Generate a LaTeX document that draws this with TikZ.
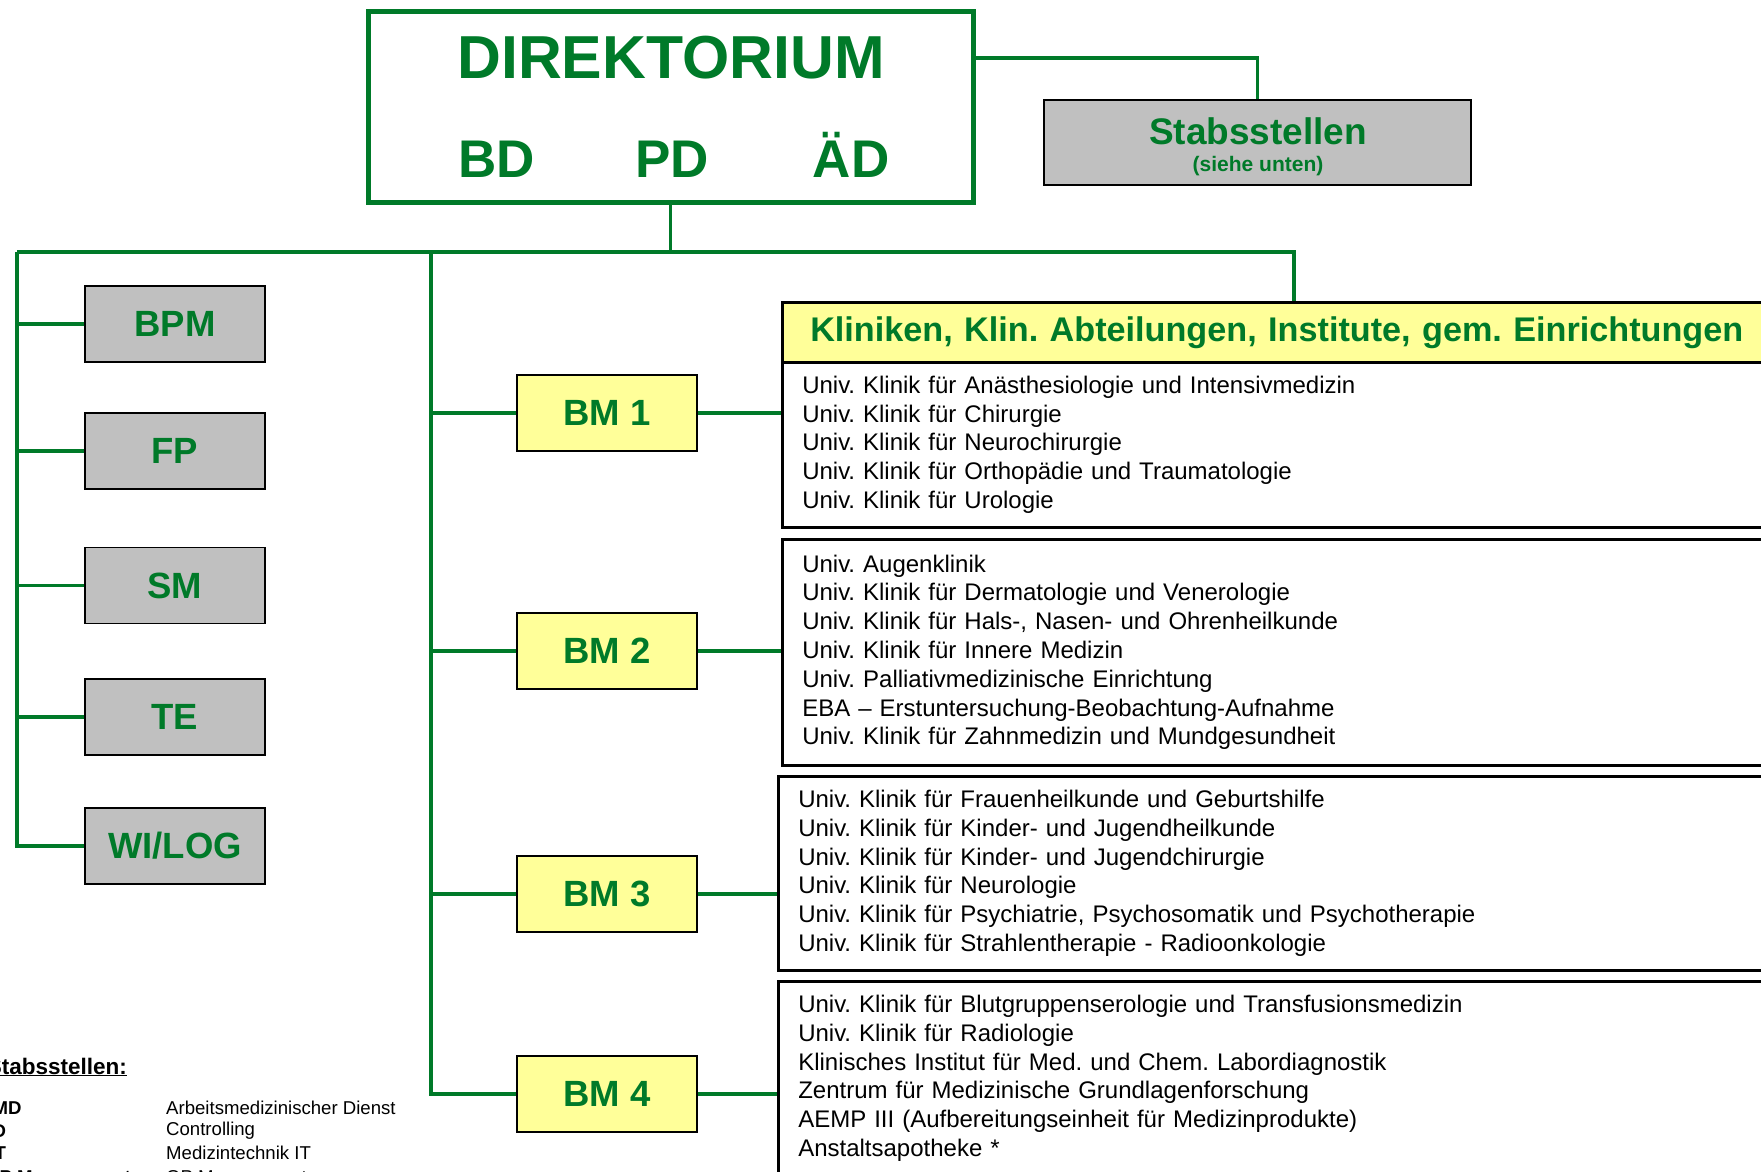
\documentclass[tikz,border=0pt]{standalone}
\usepackage{fontspec}
\setmainfont{Liberation Sans}
\usetikzlibrary{positioning}
\frenchspacing
\definecolor{dgreen}{RGB}{0,122,41}
\definecolor{lgray}{RGB}{192,192,192}
\definecolor{lyellow}{RGB}{255,255,153}
\tikzset{
    ast/.style={draw=dgreen,line width=3.5pt},
    gtext/.style={text=dgreen,inner sep=0pt},
    graubox/.style={draw=black,line width=1.3pt,fill=lgray,minimum width=180pt,minimum height=76pt,
        text=dgreen,font=\fontsize{36.5}{40}\selectfont\bfseries},
    bmbox/.style={graubox,fill=lyellow},
    klinik/.style={draw=black,line width=2.5pt,fill=white,anchor=north west,text width=980pt,
        align=left,inner xsep=20pt,inner ysep=0pt,font=\fontsize{24}{28.8}\selectfont},
    legende/.style={inner sep=0pt,anchor=west,font=\fontsize{18.6}{22}\selectfont}
}
\begin{document}
\begin{tikzpicture}[x=1pt,y=-1pt]
    \useasboundingbox (0,0) rectangle (1761,1171);
    \clip (0,0) rectangle (1761,1171);

    \node[draw=dgreen,line width=5pt,minimum width=605pt,minimum height=191pt] (dir) at (670.5,106.5) {};
    \node[gtext,font=\fontsize{60.7}{70}\selectfont\bfseries] (dirtitel) at (671,58) {DIREKTORIUM};
    \node[gtext,anchor=base,font=\fontsize{53}{60}\selectfont\bfseries] (bd) at (497,177) {BD};
    \node[gtext,anchor=base,font=\fontsize{53}{60}\selectfont\bfseries] (pd) at (672,177) {PD};
    \node[gtext,anchor=base,font=\fontsize{53}{60}\selectfont\bfseries] (aed) at (851,177) {ÄD};

    \node[draw=black,line width=1.3pt,fill=lgray,minimum width=427pt,minimum height=85pt] (stab) at (1257.5,142.5) {};
    \node[gtext,font=\fontsize{37}{42}\selectfont\bfseries] (stabtitel) at (1258,131) {Stabsstellen};
    \node[gtext,font=\fontsize{21}{25}\selectfont\bfseries] (stabhinweis) at (1258,166) {(siehe unten)};

    \node[graubox] (bpm) at (175,324) {BPM};
    \node[graubox] (fp) at (175,451) {FP};
    \node[graubox] (sm) at (175,585.5) {SM};
    \node[graubox] (te) at (175,717) {TE};
    \node[graubox] (wilog) at (175,846) {WI/LOG};

    \node[bmbox] (bm1) at (607,413) {BM 1};
    \node[bmbox] (bm2) at (607,651) {BM 2};
    \node[bmbox] (bm3) at (607,894) {BM 3};
    \node[bmbox] (bm4) at (607,1094) {BM 4};

    \node[draw=black,line width=2.5pt,fill=lyellow,anchor=north west,minimum height=60pt,text width=964pt,
        align=left,inner xsep=28pt,inner ysep=0pt,text=dgreen,font=\fontsize{34.2}{40}\selectfont\bfseries]
        (kopf) at (781,301) {Kliniken, Klin. Abteilungen, Institute, gem. Einrichtungen};

    \node[klinik,minimum height=165pt] (k1) at (781,361) {Univ. Klinik für Anästhesiologie und Intensivmedizin\\
        Univ. Klinik für Chirurgie\\
        Univ. Klinik für Neurochirurgie\\
        Univ. Klinik für Orthopädie und Traumatologie\\
        Univ. Klinik für Urologie};
    \node[klinik,minimum height=226pt] (k2) at (781,538) {Univ. Augenklinik\\
        Univ. Klinik für Dermatologie und Venerologie\\
        Univ. Klinik für Hals-, Nasen- und Ohrenheilkunde\\
        Univ. Klinik für Innere Medizin\\
        Univ. Palliativmedizinische Einrichtung\\
        EBA – Erstuntersuchung-Beobachtung-Aufnahme\\
        Univ. Klinik für Zahnmedizin und Mundgesundheit};
    \node[klinik,minimum height=194pt] (k3) at (777,775) {Univ. Klinik für Frauenheilkunde und Geburtshilfe\\
        Univ. Klinik für Kinder- und Jugendheilkunde\\
        Univ. Klinik für Kinder- und Jugendchirurgie\\
        Univ. Klinik für Neurologie\\
        Univ. Klinik für Psychiatrie, Psychosomatik und Psychotherapie\\
        Univ. Klinik für Strahlentherapie - Radioonkologie};
    \node[klinik,minimum height=194pt] (k4) at (777,980) {Univ. Klinik für Blutgruppenserologie und Transfusionsmedizin\\
        Univ. Klinik für Radiologie\\
        Klinisches Institut für Med. und Chem. Labordiagnostik\\
        Zentrum für Medizinische Grundlagenforschung\\
        AEMP III (Aufbereitungseinheit für Medizinprodukte)\\
        Anstaltsapotheke *};

    \coordinate (lt) at (17,252);
    \coordinate (mt) at (431,252);
    \draw[ast] ([yshift=48.5pt]dir.east) -| (stab.north);
    \draw[ast] (dir.south) -- (dir.south |- lt);
    \draw[ast] (lt) -| ([xshift=513pt]kopf.north west);
    \draw[ast] (lt) |- (wilog.west);
    \foreach \n in {bpm,fp,sm,te}
        \draw[ast] (\n.west) -- (\n.west -| lt);
    \draw[ast] (mt) |- (bm4.west);
    \foreach \n in {bm1,bm2,bm3}
        \draw[ast] (\n.west) -- (\n.west -| mt);
    \foreach \n/\k in {bm1/k1,bm2/k2,bm3/k3,bm4/k4}
        \draw[ast] (\n.east) -- (\n.east -| \k.west);

    \node[legende,anchor=east,font=\fontsize{22.5}{27}\selectfont\bfseries] (legtitel) at (127,1067) {\underline{Stabsstellen:}};
    \foreach \y/\x/\abk/\txt [count=\i] in {1108/-21/AMD/Arbeitsmedizinischer Dienst,1131/-21/CD/Controlling,
            1153/-21/MT/Medizintechnik IT,1179/-15/OP Management/OP Management} {
        \node[legende,font=\fontsize{18.6}{22}\selectfont\bfseries] (abk\i) at (\x,\y) {\abk};
        \node[legende] (txt\i) at (166,\y) {\txt};
    }
\end{tikzpicture}
\end{document}
